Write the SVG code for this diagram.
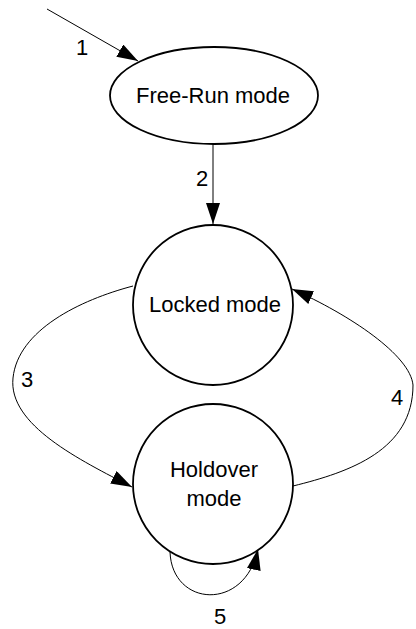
<svg xmlns="http://www.w3.org/2000/svg" width="416" height="629" viewBox="0 0 416 629">
<style>
.node{fill:#fff;stroke:#000;stroke-width:1.8}
.edge{fill:none;stroke:#000;stroke-width:1}
.t{font-family:"Liberation Sans",Arial,sans-serif;font-size:22px;fill:#000;text-anchor:middle}
</style>
<defs>
<marker id="arr" markerUnits="userSpaceOnUse" markerWidth="22" markerHeight="14" refX="21" refY="7" orient="auto">
<path d="M0,0 L21,7 L0,14 z" fill="#000"/>
</marker>
</defs>
<rect width="416" height="629" fill="#fff"/>
<g id="connectors">
<line class="edge" x1="47" y1="9" x2="138" y2="61" marker-end="url(#arr)"/>
<line class="edge" x1="213" y1="144" x2="213" y2="224" marker-end="url(#arr)"/>
<path class="edge" d="M133,286 C80,300 18,330 13,378 C8,425 80,460 132,487" marker-end="url(#arr)"/>
<path class="edge" d="M293,486 C350,472 413,450 413,385 C410,355 350,315 292,289" marker-end="url(#arr)"/>
<path class="edge" d="M170,552 C172,607 245,612 258,549" marker-end="url(#arr)"/>
<text class="t" x="82" y="55">1</text>
<text class="t" x="202" y="186">2</text>
<text class="t" x="27" y="387">3</text>
<text class="t" x="397" y="405">4</text>
<text class="t" x="220" y="624">5</text>
</g>
<g id="freerun">
<ellipse class="node" cx="214" cy="95.5" rx="104" ry="48.5"/>
<text class="t" x="213" y="103">Free-Run mode</text>
</g>
<g id="locked">
<circle class="node" cx="213" cy="305" r="80"/>
<text class="t" x="215" y="312">Locked mode</text>
</g>
<g id="holdover">
<circle class="node" cx="213" cy="484" r="80"/>
<text class="t" x="214" y="477">Holdover</text>
<text class="t" x="214" y="506">mode</text>
</g>
</svg>
